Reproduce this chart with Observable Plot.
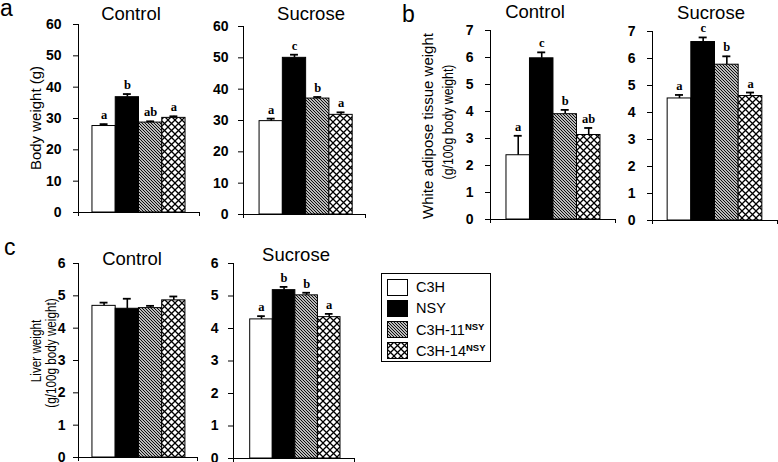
<!DOCTYPE html>
<html><head><meta charset="utf-8">
<script src="https://cdn.jsdelivr.net/npm/d3@7"></script>
<script src="https://cdn.jsdelivr.net/npm/@observablehq/plot@0.6"></script>
<style>
html,body{margin:0;padding:0;background:#fff;}
#chart{position:relative;width:778px;height:462px;overflow:hidden;font-family:"Liberation Sans",Arial,sans-serif;color:#000;background:#fff;}
.abs{position:absolute;white-space:nowrap;line-height:1;}
.letter{font-size:23px;line-height:0.75;}
.title{font-size:18.5px;transform:translateX(-50%);}
.ylab{font-size:15px;transform:translate(-50%,-50%) rotate(-90deg);}
.ylab.c1{transform:translate(-50%,-50%) rotate(-90deg) scaleX(0.82);}
.ylab.c2{transform:translate(-50%,-50%) rotate(-90deg) scaleX(0.78);}
#legend{position:absolute;left:381px;top:273px;width:108px;height:87px;border:1.5px solid #000;font-size:14.5px;}
#legend .item{position:absolute;left:5px;height:17px;display:flex;align-items:center;}
#legend .item svg{display:block;margin-right:8px;}
#legend sup{font-size:9.5px;vertical-align:top;position:relative;top:-1px;font-weight:bold;}
#legend span{font-weight:normal;}
</style></head><body>
<svg width="0" height="0" style="position:absolute">
  <defs>
    <pattern id="hatch" patternUnits="userSpaceOnUse" width="3" height="3">
      <rect width="3" height="3" fill="#fff"/>
      <path d="M-1,-1 L4,4 M-1,2 L1,4 M2,-1 L4,1" stroke="#000" stroke-width="1.05"/>
    </pattern>
    <pattern id="cross" patternUnits="userSpaceOnUse" width="7" height="7">
      <rect width="7" height="7" fill="#fff"/>
      <path d="M-1,-1 L8,8 M8,-1 L-1,8" stroke="#000" stroke-width="1.3"/>
    </pattern>
  </defs>
</svg>
<div id="chart"></div>
<script>
// ---------- data ----------
const groups = ["C3H", "NSY", "C3H-11NSY", "C3H-14NSY"];
const titles = ["Control", "Sucrose"];
const panelLetters = ["a", "b", "c"];

const bodyControl = [27.6, 36.8, 28.7, 30.2];
const bodyControlErr = [0.6, 1.0, 0.4, 0.5];
const bodyControlLetters = ["a", "b", "ab", "a"];

const bodySucrose = [29.8, 50.0, 37.0, 31.8];
const bodySucroseErr = [0.8, 1.0, 0.5, 0.8];
const bodySucroseLetters = ["a", "c", "b", "a"];

const watControl = [2.38, 5.97, 3.9, 3.13];
const watControlErr = [0.72, 0.22, 0.16, 0.26];
const watControlLetters = ["a", "c", "b", "ab"];

const watSucrose = [4.52, 6.61, 5.77, 4.61];
const watSucroseErr = [0.13, 0.17, 0.31, 0.13];
const watSucroseLetters = ["a", "c", "b", "a"];

const liverControl = [4.69, 4.6, 4.62, 4.86];
const liverControlErr = [0.1, 0.31, 0.07, 0.12];

const liverSucrose = [4.28, 5.18, 5.02, 4.35];
const liverSucroseErr = [0.1, 0.1, 0.08, 0.1];
const liverSucroseLetters = ["a", "b", "b", "a"];

const yLabelA = ["Body weight (g)"];
const yLabelB = ["White adipose tissue weight", "(g/100g body weight)"];
const yLabelC = ["Liver weight", "(g/100g body weight)"];

const fills = ["#ffffff", "#000000", "url(#hatch)", "url(#cross)"];

// ---------- layout ----------
const chart = document.getElementById("chart");
function addText(cls, text, left, top) {
  const d = document.createElement("div");
  d.className = "abs " + cls;
  d.textContent = text;
  d.style.left = left + "px";
  d.style.top = top + "px";
  chart.appendChild(d);
  return d;
}

function panel(vals, errs, letters, ymax, step, L) {
  const rows = groups.map((g, i) => ({g, i, v: vals[i], e: errs[i], lab: letters ? letters[i] : ""}));
  const mL = 36, mR = 4, mT = 16, mB = 8;
  const xd = [-L.padL, 4 + L.padR];
  const svg = Plot.plot({
    width: mL + (L.axisEnd - L.axisX) + mR,
    height: mT + (L.y0 - L.yTop) + mB,
    marginLeft: mL, marginRight: mR, marginTop: mT, marginBottom: mB,
    x: {domain: xd, axis: null},
    y: {domain: [0, ymax], ticks: ymax / step, tickSize: 5, tickPadding: L.pad ?? 10, tickFormat: d => String(d), label: null},
    color: {domain: groups, range: fills},
    style: {fontFamily: "'Liberation Sans', Arial, sans-serif", fontSize: "14px", fontWeight: "bold", color: "#000", background: "transparent", overflow: "visible", maxWidth: "none"},
    marks: [
      Plot.rect(rows, {x1: "i", x2: d => d.i + 1, y1: 0, y2: "v", fill: "g", stroke: "#000", strokeWidth: 1}),
      Plot.ruleX(rows, {x: d => d.i + 0.5, y1: "v", y2: d => d.v + d.e, stroke: "#000", strokeWidth: 1.6}),
      Plot.ruleY(rows, {y: d => d.v + d.e, x1: d => d.i + 0.5 - 0.17, x2: d => d.i + 0.5 + 0.17, stroke: "#000", strokeWidth: 1.8}),
      Plot.text(rows, {x: d => d.i + 0.5, y: d => d.v + d.e, text: "lab", lineAnchor: "bottom", dy: -5,
        fontFamily: "'Liberation Serif', 'Times New Roman', serif", fontSize: 12.5, fontWeight: "bold", fill: "#000"}),
      Plot.ruleX([xd[0]], {y1: 0, y2: ymax, stroke: "#000", strokeWidth: 1}),
      Plot.ruleY([0], {x1: xd[0], x2: xd[1], stroke: "#000", strokeWidth: 1}),
      Plot.ruleX(xd, {y1: 0, y2: 0, insetTop: 4, stroke: "#000", strokeWidth: 1})
    ]
  });
  const wrap = document.createElement("div");
  wrap.style.position = "absolute";
  wrap.style.left = (L.axisX - mL) + "px";
  wrap.style.top = (L.yTop - mT) + "px";
  wrap.appendChild(svg);
  chart.appendChild(wrap);
}

panel(bodyControl, bodyControlErr, bodyControlLetters, 60, 10, {axisX: 78, axisEnd: 199, yTop: 24, y0: 212, padL: 0.6, padR: 0.6, pad: 12});
panel(bodySucrose, bodySucroseErr, bodySucroseLetters, 60, 10, {axisX: 243, axisEnd: 365, yTop: 26, y0: 214, padL: 0.69, padR: 0.55, pad: 10});
panel(watControl, watControlErr, watControlLetters, 7, 1, {axisX: 490, axisEnd: 615, yTop: 30, y0: 219, padL: 0.68, padR: 0.64, pad: 12});
panel(watSucrose, watSucroseErr, watSucroseLetters, 7, 1, {axisX: 652, axisEnd: 777, yTop: 31, y0: 220, padL: 0.64, padR: 0.64, pad: 12});
panel(liverControl, liverControlErr, null, 6, 1, {axisX: 78, axisEnd: 197, yTop: 263, y0: 457, padL: 0.6, padR: 0.52, pad: 8});
panel(liverSucrose, liverSucroseErr, liverSucroseLetters, 6, 1, {axisX: 233, axisEnd: 354, yTop: 263, y0: 458, padL: 0.74, padR: 0.62, pad: 10});

// panel letters
addText("letter", panelLetters[0], 0, 0);
addText("letter", panelLetters[1], 402, 5.5);
addText("letter", panelLetters[2], 4, 238.5);

// titles
addText("title", titles[0], 131, 4.6);
addText("title", titles[1], 311, 4.6);
addText("title", titles[0], 535, 2.6);
addText("title", titles[1], 711, 3.5);
addText("title", titles[0], 132, 249.6);
addText("title", titles[1], 296, 246);

// y labels
addText("ylab", yLabelA[0], 35, 118);
addText("ylab", yLabelB[0], 427, 126);
addText("ylab c1", yLabelB[1], 447, 122);
addText("ylab c2", yLabelC[0], 34.5, 351);
addText("ylab c2", yLabelC[1], 50, 353);

// legend
const legend = document.createElement("div");
legend.id = "legend";
const legendLabels = ["C3H", "NSY", "C3H-11<sup>NSY</sup>", "C3H-14<sup>NSY</sup>"];
groups.forEach((g, i) => {
  const it = document.createElement("div");
  it.className = "item";
  it.style.top = (4.5 + i * 21.3) + "px";
  it.innerHTML = `<svg width="21" height="17"><rect x="0.5" y="0.5" width="20" height="16" fill="${fills[i]}" stroke="#000" stroke-width="1"/></svg><span>${legendLabels[i]}</span>`;
  legend.appendChild(it);
});
chart.appendChild(legend);
</script>
</body></html>
